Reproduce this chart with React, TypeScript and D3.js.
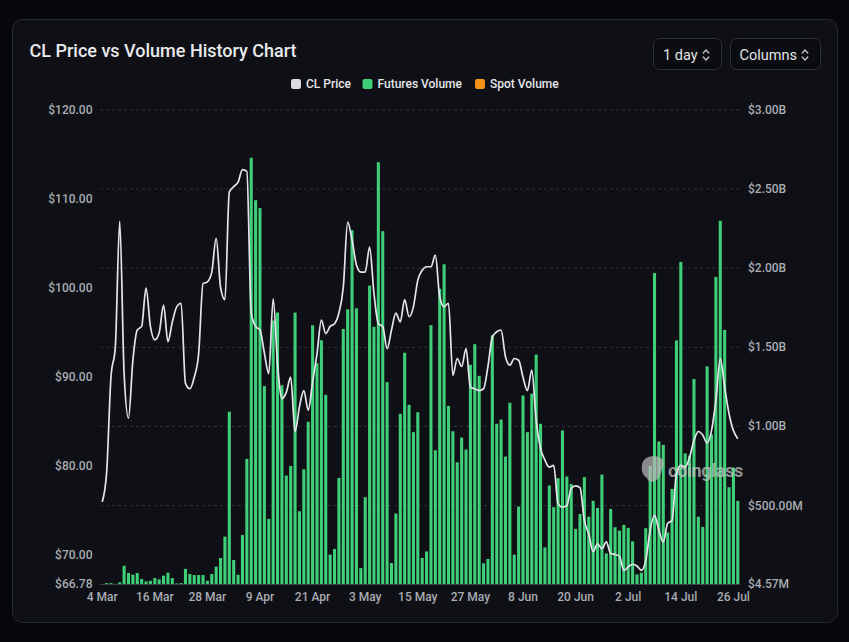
import React, { useEffect } from 'react';
import * as d3 from 'd3';

// ---------- data ----------
const startDay = new Date(Date.UTC(2026, 2, 4));
const endDay = new Date(Date.UTC(2026, 6, 28));
const fmtDay = d3.utcFormat('%-d %b');
const categories: string[] = d3.utcDay.range(startDay, endDay).map((d) => fmtDay(d));

const tickLabels = ['4 Mar', '16 Mar', '28 Mar', '9 Apr', '21 Apr', '3 May', '15 May', '27 May', '8 Jun', '20 Jun', '2 Jul', '14 Jul', '26 Jul'];

// CL price (USD)
const clPrice = [
  76.0, 79.2, 90.0, 93.4, 107.5, 90.4, 85.4, 91.9, 95.3, 95.7,
  100.0, 95.7, 94.2, 95.0, 98.1, 94.0, 96.2, 97.9, 98.3, 89.3,
  88.7, 90.0, 92.6, 100.5, 100.7, 101.8, 105.6, 100.1, 98.7, 110.8,
  111.4, 111.9, 113.3, 113.1, 97.2, 95.7, 95.3, 92.7, 90.4, 98.8,
  91.5, 87.6, 88.3, 90.0, 83.9, 86.7, 88.5, 86.3, 89.5, 92.6,
  96.4, 94.9, 95.7, 96.0, 97.2, 100.1, 107.4, 105.4, 102.6, 101.8,
  101.8, 104.6, 99.4, 96.0, 95.7, 93.2, 95.3, 97.2, 96.2, 98.7,
  96.8, 97.9, 100.9, 102.0, 102.4, 102.4, 103.7, 99.0, 97.9, 98.3,
  90.2, 92.1, 91.2, 93.2, 88.9, 88.7, 88.5, 88.7, 91.2, 94.5,
  95.1, 95.3, 92.3, 91.35, 92.1, 91.9, 90.0, 88.5, 90.8, 85.2,
  82.0, 80.7, 79.9, 80.1, 75.8, 75.4, 75.6, 77.5, 77.8, 77.6,
  73.9, 72.4, 70.4, 71.3, 70.75, 71.5, 70.2, 70.1, 69.9, 68.3,
  68.7, 69.0, 68.8, 68.3, 69.4, 72.8, 74.5, 72.8, 71.5, 73.6,
  73.9, 79.2, 80.1, 79.9, 81.0, 82.9, 83.9, 83.5, 82.6, 84.0,
  87.4, 92.1, 88.9, 85.9, 84.0, 83.1,
];

// Futures volume (billions USD)
const futuresVolumeB = [
  0, 0.01, 0.01, 0.005, 0.015, 0.12, 0.074, 0.063, 0.074, 0.036,
  0.021, 0.025, 0.042, 0.034, 0.057, 0.076, 0.042, 0.008, 0.01, 0.1,
  0.068, 0.061, 0.061, 0.061, 0.025, 0.068, 0.114, 0.169, 0.304, 1.093,
  0.156, 0.063, 0.314, 0.795, 2.698, 2.43, 2.38, 1.255, 0.416, 1.67,
  1.72, 1.26, 0.69, 0.75, 1.72, 0.464, 0.73, 1.03, 1.64, 1.4,
  1.545, 1.2, 0.19, 0.226, 0.675, 1.616, 1.74, 2.24, 1.747, 0.105,
  0.553, 1.89, 1.63, 2.67, 2.234, 1.28, 0.137, 0.45, 1.08, 1.466,
  1.137, 0.964, 1.09, 0.169, 0.21, 1.64, 0.85, 1.87, 2.025, 1.13,
  0.97, 0.774, 0.93, 0.854, 1.39, 1.52, 1.32, 0.135, 0.163, 1.576,
  1.017, 1.044, 0.81, 1.15, 0.19, 0.494, 1.196, 0.964, 1.207, 1.454,
  1.017, 0.236, 0.627, 0.49, 0.673, 0.975, 0.684, 0.637, 0.353, 0.447,
  0.68, 0.43, 0.53, 0.485, 0.696, 0.198, 0.479, 0.363, 0.342, 0.378,
  0.359, 0.274, 0.065, 0.076, 0.357, 0.75, 1.97, 0.905, 0.884, 0.33,
  0.606, 1.544, 2.04, 0.83, 0.816, 1.3, 0.43, 0.365, 1.38, 0.95,
  1.945, 2.3, 1.61, 0.616, 0.74, 0.53,
];

const legendItems = ['CL Price', 'Futures Volume', 'Spot Volume'];
const legendColors = ['#dcdce2', '#3fcf78', '#f7931a'];

const priceTicks = [70, 80, 90, 100, 110, 120];
const priceMin = 66.78;
const priceMax = 120;
const volumeTicks = [500e6, 1e9, 1.5e9, 2e9, 2.5e9, 3e9];
const volumeMin = 4.57e6;
const volumeMax = 3e9;

// ---------- layout ----------
const W = 849;
const H = 642;
const plotL = 100;
const plotR = 740;
const plotT = 110;
const plotB = 584;

const FONT = 'Roboto, "Noto Sans", sans-serif';

const fmtPrice = (v: number) => `$${v.toFixed(2)}`;
const fmtVol = (v: number) => (v >= 1e9 ? `$${(v / 1e9).toFixed(2)}B` : `$${(v / 1e6).toFixed(2)}M`);

function Chevron({ x, y }: { x: number; y: number }) {
  return (
    <g transform={`translate(${x},${y})`} fill="none" stroke="#c9ccd2" strokeWidth={1.2} strokeLinecap="round" strokeLinejoin="round">
      <path d="M-2.8,-2 L0,-5 L2.8,-2" />
      <path d="M-2.8,2 L0,5 L2.8,2" />
    </g>
  );
}

export default function App() {
  useEffect(() => {
    document.body.style.margin = '0';
    document.body.style.background = '#06080c';
  }, []);

  const x = d3.scaleBand<string>().domain(categories).range([plotL, plotR]).paddingInner(0.3).paddingOuter(0.15);
  const bw = x.bandwidth();
  const cx = (i: number) => (x(categories[i]) as number) + bw / 2;
  const yPrice = d3.scaleLinear().domain([priceMin, priceMax]).range([plotB, plotT]);
  const yVol = d3.scaleLinear().domain([volumeMin, volumeMax]).range([plotB, plotT]);

  const linePath = d3
    .line<number>()
    .x((_, i) => cx(i))
    .y((d) => yPrice(d))
    .curve(d3.curveMonotoneX)(clPrice) as string;

  const leftTicks = [...priceTicks, priceMin];
  const rightTicks = [...volumeTicks, volumeMin];

  const legendX = [291, 362.5, 475];

  return (
    <div style={{ position: 'absolute', left: 0, top: 0, width: W, height: H }}>
      <svg width={W} height={H} viewBox={`0 0 ${W} ${H}`} style={{ display: 'block', fontFamily: FONT }}>
        <rect x={0} y={0} width={W} height={H} fill="#06080c" />
        <rect x={12.5} y={19.5} width={825} height={603} rx={10} fill="#0e1015" stroke="#262a31" />

        {/* title */}
        <text x={29.5} y={56.5} fill="#e9ebee" fontSize={18} fontWeight={500}>
          CL Price vs Volume History Chart
        </text>

        {/* buttons */}
        <rect x={653.5} y={38.5} width={68} height={31} rx={6} fill="#0a0c10" stroke="#2b2f37" />
        <text x={663} y={59.5} fill="#e3e5e8" fontSize={14.5}>1 day</text>
        <Chevron x={706} y={55} />
        <rect x={730.5} y={38.5} width={90} height={31} rx={6} fill="#0a0c10" stroke="#2b2f37" />
        <text x={739.5} y={59.5} fill="#e3e5e8" fontSize={14.5}>Columns</text>
        <Chevron x={805} y={55} />

        {/* legend */}
        {legendItems.map((name, k) => (
          <g key={name}>
            <rect x={legendX[k]} y={79} width={10} height={10} rx={2} fill={legendColors[k]} />
            <text x={legendX[k] + 15} y={88.3} fill="#e6e7ea" fontSize={12} fontWeight={500}>
              {name}
            </text>
          </g>
        ))}

        {/* grid */}
        {volumeTicks.map((t) => (
          <line key={t} x1={plotL} x2={plotR} y1={yVol(t)} y2={yVol(t)} stroke="#2c3038" strokeDasharray="3,3" />
        ))}
        <line x1={plotL} x2={plotR} y1={plotB + 0.5} y2={plotB + 0.5} stroke="#3c4048" />

        {/* left axis labels */}
        {leftTicks.map((t) => (
          <text key={t} x={92.5} y={yPrice(t) + 4} textAnchor="end" fill="#a9acb2" fontSize={12} fontWeight={500}>
            {fmtPrice(t)}
          </text>
        ))}

        {/* right axis labels */}
        {rightTicks.map((t) => (
          <text key={t} x={748} y={yVol(t) + 4} textAnchor="start" fill="#a9acb2" fontSize={12} fontWeight={500}>
            {fmtVol(t)}
          </text>
        ))}

        {/* x axis labels */}
        {tickLabels.map((lab) => {
          const i = categories.indexOf(lab);
          return (
            <text key={lab} x={cx(i)} y={601} textAnchor="middle" fill="#a9acb2" fontSize={12} fontWeight={500}>
              {lab}
            </text>
          );
        })}

        {/* bars */}
        {futuresVolumeB.map((v, i) => {
          const val = v * 1e9;
          if (val <= volumeMin) return null;
          const yTop = yVol(val);
          return <rect key={i} x={x(categories[i])} y={yTop} width={bw} height={plotB - yTop} fill={legendColors[1]} />;
        })}

        {/* watermark */}
        <g opacity={0.72}>
          <path
            d="M644,460 C648,455 657,455 661,458 C665,461 664,466 662,469 C661,474 659,479 655,481 C652,483 648,482 647,478 C643,476 641,470 642,466 C642,463 643,461 644,460 Z"
            fill="#b9b9b9"
          />
          <text x={668} y={477} fill="#c4c4c4" fontSize={18} fontWeight={700} letterSpacing={-0.3}>
            coinglass
          </text>
        </g>

        {/* price line */}
        <path d={linePath} fill="none" stroke="#e4e4ea" strokeWidth={1.7} strokeLinejoin="round" />
      </svg>
    </div>
  );
}
